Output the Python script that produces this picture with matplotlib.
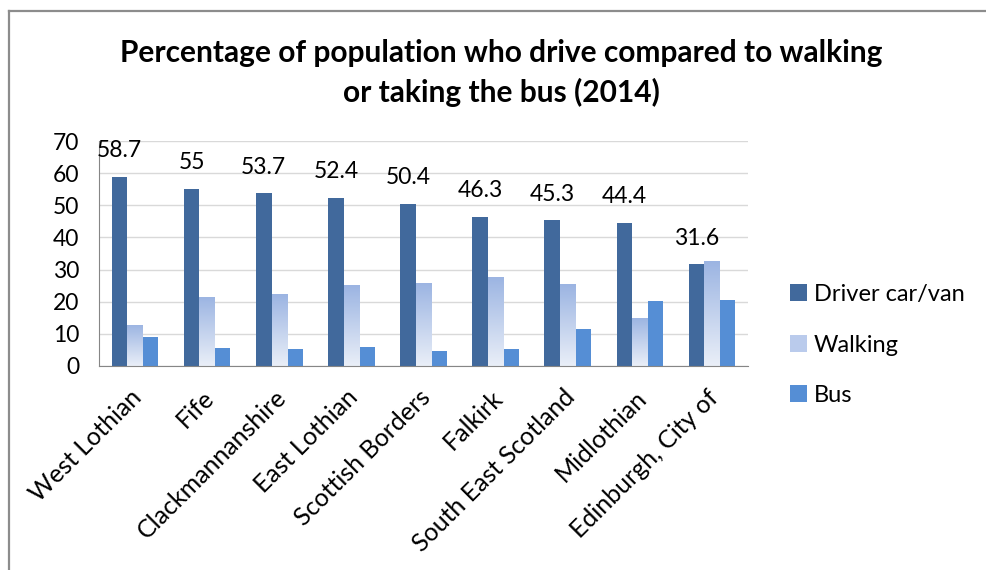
import numpy as np
import matplotlib
matplotlib.use("Agg")
from matplotlib import pyplot as plt
from matplotlib.lines import Line2D
import matplotlib.transforms as mtransforms

# data
areas = ["West Lothian", "Fife", "Clackmannanshire", "East Lothian",
         "Scottish Borders", "Falkirk", "South East Scotland", "Midlothian",
         "Edinburgh, City of"]
driver = [58.7, 55, 53.7, 52.4, 50.4, 46.3, 45.3, 44.4, 31.6]
walking = [12.8, 21.6, 22.4, 25.2, 25.9, 27.7, 25.5, 15.0, 32.7]
bus = [9.1, 5.7, 5.3, 6.0, 4.7, 5.3, 11.6, 20.2, 20.5]

plt.rcParams['font.family'] = ['Lato', 'DejaVu Sans']
fs = 16.5

fig = plt.figure(figsize=(9.86, 5.70), dpi=100)
ax = fig.add_axes([99 / 986, 1 - 366 / 570, (748 - 99) / 986, (366 - 141) / 570])

x = np.arange(len(areas))
w = 0.215
b1 = ax.bar(x - w, driver, w, color="#41699C", zorder=3, label="Driver car/van")
b2 = ax.bar(x, walking, w, color="#A9BFE6", zorder=3, label="Walking")
b3 = ax.bar(x + w, bus, w, color="#558ED5", zorder=3, label="Bus")

# gradient fill for walking bars
grad = np.linspace(0, 1, 256).reshape(-1, 1)
cmap = matplotlib.colors.LinearSegmentedColormap.from_list("walk", ["#EAEFF8", "#9BB4E2"])
for r in b2:
    x0 = r.get_x()
    h = r.get_height()
    im = ax.imshow(grad, extent=[x0, x0 + r.get_width(), 0, h], origin="lower",
                   aspect="auto", cmap=cmap, zorder=3.5)
    im.set_clip_path(r)

# data labels on driver bars
for r, v in zip(b1, driver):
    ax.annotate(f"{v:g}", (r.get_x() + r.get_width() / 2, v), xytext=(0, 19),
                textcoords="offset points", ha="center", va="center", fontsize=fs)

ax.set_xlim(-0.5, len(areas) - 0.5)
ax.set_ylim(0, 70)
ax.set_yticks(range(0, 71, 10))
ax.tick_params(axis="y", length=0, labelsize=fs, pad=14)
ax.tick_params(axis="x", length=0, labelsize=18, pad=20)
ax.set_xticks(x)
ax.set_xticklabels(areas, rotation=45, ha="right", rotation_mode="anchor", va="center")
offset = mtransforms.ScaledTranslation(0.03, 0, fig.dpi_scale_trans)
for lbl in ax.get_xticklabels():
    lbl.set_transform(lbl.get_transform() + offset)

ax.grid(axis="y", color="#D9D9D9", linewidth=1, zorder=0)
for s in ["top", "right"]:
    ax.spines[s].set_visible(False)
ax.spines["left"].set_color("#868686")
ax.spines["bottom"].set_color("#868686")
ax.spines["bottom"].set_zorder(4)

leg = ax.legend(loc="center left", bbox_to_anchor=(781 / 986, 1 - 345 / 570),
                bbox_transform=fig.transFigure, frameon=False, fontsize=17,
                handlelength=0.7, handleheight=0.7, handletextpad=0.3,
                labelspacing=1.25, borderaxespad=0)
leg.legend_handles[1].set_facecolor("#BACBEC")

fig.text(501 / 986, 1 - 73 / 570,
         "Percentage of population who drive compared to walking\nor taking the bus (2014)",
         ha="center", va="center", fontsize=21.5, fontweight="bold", linespacing=1.45)

# outer chart border
fig.add_artist(Line2D([9 / 986, 9 / 986], [0, 1 - 10.5 / 570], color="#8C8C8C",
                      linewidth=1.6, transform=fig.transFigure))
fig.add_artist(Line2D([9 / 986, 1], [1 - 10.5 / 570, 1 - 10.5 / 570], color="#8C8C8C",
                      linewidth=1.6, transform=fig.transFigure))

fig.savefig("out.png", dpi=100)
